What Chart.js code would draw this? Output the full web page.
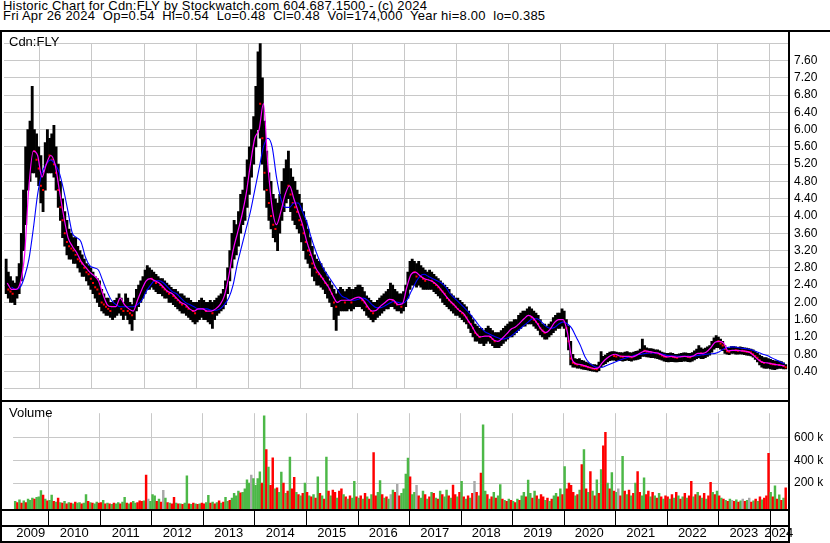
<!DOCTYPE html>
<html>
<head>
<meta charset="utf-8">
<script src="https://cdn.jsdelivr.net/npm/chart.js@4.4.1/dist/chart.umd.min.js"></script>
<style>
  html, body { margin: 0; padding: 0; background: #fff; }
  #wrap { position: relative; width: 830px; height: 543px; overflow: hidden; font-family: "Liberation Sans", Arial, sans-serif; color: #000; }
  .hd { position: absolute; left: 3px; font-size: 13px; line-height: 13px; letter-spacing: 0.22px; white-space: pre; }
  .tag { position: absolute; left: 9px; font-size: 13px; line-height: 13px; white-space: pre; }
  canvas { position: absolute; left: 0; }
</style>
</head>
<body>
<div id="wrap">
  <div class="hd" style="top:-1px">Historic Chart for Cdn:FLY by Stockwatch.com 604.687.1500 - (c) 2024</div>
  <div class="hd" style="top:9px">Fri Apr 26 2024  Op=0.54  Hi=0.54  Lo=0.48  Cl=0.48  Vol=174,000  Year hi=8.00  lo=0.385</div>
  <canvas id="price" width="830" height="372" style="top:30px"></canvas>
  <canvas id="vol" width="830" height="143" style="top:400px"></canvas>
  <div class="tag" style="top:35px">Cdn:FLY</div>
  <div class="tag" style="top:406px">Volume</div>
</div>
<script>
// semi-monthly bars, May 2009 .. Apr 2024
const highs = [
  3.0,2.7,2.6,2.5,2.45,2.6,2.9,3.6,4.6,5.6,6.0,6.2,7.0,6.0,5.9,5.6,
  5.4,5.0,5.7,6.0,5.8,5.9,6.1,5.6,5.2,4.8,4.4,4.1,3.9,3.7,3.6,3.5,3.5,3.3,3.2,3.1,3.0,2.9,2.85,2.8,
  2.7,2.6,2.55,2.5,2.3,2.2,2.1,2.1,2.0,2.0,2.05,2.1,2.2,2.1,2.0,2.2,2.1,2.0,1.95,2.1,2.3,2.4,2.5,2.6,
  2.75,2.85,2.8,2.75,2.7,2.65,2.6,2.55,2.55,2.5,2.45,2.4,2.35,2.3,2.3,2.25,2.2,2.2,2.15,2.1,2.1,2.05,2.0,2.0,
  2.0,2.05,2.1,2.05,2.0,2.0,2.05,2.0,2.05,2.1,2.15,2.2,2.3,2.5,2.8,3.2,3.6,3.9,3.8,4.1,4.5,4.6,4.9,5.3,
  5.6,6.0,6.3,7.0,7.8,8.0,7.2,6.2,5.5,5.0,4.8,4.5,4.4,4.3,4.5,4.8,5.1,5.3,5.5,5.1,4.9,4.8,4.6,4.5,
  4.3,4.1,3.9,3.7,3.5,3.3,3.1,3.0,2.95,2.9,2.8,2.7,2.6,2.5,2.4,2.3,2.2,2.3,2.35,2.3,2.25,2.3,2.35,2.3,
  2.3,2.35,2.4,2.4,2.35,2.25,2.15,2.1,2.05,2.0,2.0,2.05,2.1,2.15,2.2,2.25,2.3,2.45,2.4,2.3,2.25,2.2,2.2,2.25,
  2.4,2.7,2.95,3.0,2.95,2.9,2.95,2.85,2.8,2.75,2.7,2.75,2.7,2.65,2.6,2.55,2.5,2.45,2.4,2.35,2.3,2.2,2.15,2.1,
  2.1,2.05,2.0,1.95,1.9,1.8,1.7,1.6,1.5,1.45,1.4,1.4,1.35,1.4,1.45,1.4,1.35,1.3,1.3,1.3,1.35,1.4,1.45,1.5,
  1.55,1.55,1.6,1.6,1.7,1.75,1.8,1.8,1.85,1.9,1.85,1.8,1.75,1.7,1.6,1.5,1.5,1.45,1.5,1.55,1.65,1.7,1.75,1.75,
  1.85,1.8,1.6,1.45,1.1,0.8,0.7,0.68,0.7,0.66,0.65,0.62,0.6,0.58,0.56,0.56,0.55,0.62,0.86,0.75,0.78,0.82,0.85,0.86,
  0.86,0.85,0.84,0.84,0.83,0.85,0.86,0.84,0.83,0.85,0.87,0.88,0.92,1.15,1.0,0.95,0.93,0.93,0.92,0.9,0.9,0.88,0.85,0.83,
  0.82,0.82,0.83,0.82,0.8,0.8,0.81,0.82,0.83,0.83,0.82,0.82,0.84,0.88,0.92,1.0,0.95,0.92,0.94,0.97,1.0,1.1,1.18,1.23,
  1.2,1.15,1.1,1.0,0.95,0.94,0.98,0.98,0.97,0.96,0.97,0.96,0.95,0.94,0.93,0.92,0.9,0.86,0.82,0.78,0.75,0.72,0.72,0.7,
  0.68,0.66,0.65,0.65,0.64,0.63,0.6,0.56
];
const lows = [
  2.2,2.1,2.0,2.0,1.95,2.1,2.2,2.5,3.2,3.8,4.6,4.8,5.0,5.0,4.9,4.7,
  4.3,4.1,4.6,5.0,5.0,5.0,4.9,4.6,4.2,3.9,3.5,3.3,3.1,3.0,3.0,2.9,2.9,2.8,2.7,2.6,2.6,2.5,2.4,2.3,
  2.2,2.1,2.0,1.9,1.8,1.75,1.7,1.7,1.65,1.6,1.65,1.7,1.75,1.7,1.6,1.7,1.6,1.5,1.35,1.6,1.8,1.9,2.0,2.1,
  2.2,2.3,2.3,2.35,2.3,2.25,2.2,2.2,2.15,2.1,2.1,2.0,2.0,1.95,1.9,1.85,1.8,1.75,1.75,1.7,1.65,1.6,1.55,1.5,
  1.55,1.6,1.65,1.6,1.6,1.55,1.5,1.4,1.6,1.7,1.75,1.8,1.85,1.95,2.2,2.5,2.8,3.0,3.1,3.3,3.6,3.8,3.9,4.2,
  4.5,4.9,5.2,5.6,6.0,5.8,5.2,4.6,4.2,3.9,3.7,3.5,3.4,3.2,3.6,3.9,4.1,4.3,4.4,4.1,3.9,3.8,3.7,3.6,
  3.4,3.2,3.0,2.9,2.8,2.6,2.5,2.4,2.4,2.35,2.3,2.2,2.1,2.0,1.9,1.6,1.35,1.7,1.8,1.8,1.8,1.8,1.85,1.8,
  1.85,1.9,1.9,1.9,1.85,1.8,1.7,1.65,1.6,1.55,1.6,1.65,1.7,1.75,1.8,1.85,1.85,1.9,1.9,1.85,1.8,1.8,1.75,1.8,
  1.9,2.1,2.3,2.4,2.4,2.35,2.4,2.35,2.3,2.3,2.3,2.3,2.3,2.25,2.2,2.15,2.1,2.0,1.95,1.9,1.85,1.8,1.75,1.7,
  1.7,1.65,1.6,1.55,1.5,1.4,1.3,1.2,1.1,1.1,1.05,1.05,1.0,1.05,1.1,1.05,1.0,0.95,0.95,0.95,1.0,1.05,1.1,1.15,
  1.2,1.2,1.25,1.3,1.35,1.4,1.45,1.45,1.5,1.5,1.5,1.45,1.4,1.35,1.25,1.2,1.15,1.15,1.2,1.25,1.3,1.35,1.4,1.4,
  1.45,1.4,1.2,0.9,0.55,0.5,0.5,0.48,0.48,0.46,0.45,0.44,0.43,0.42,0.41,0.40,0.39,0.42,0.5,0.55,0.58,0.62,0.65,0.66,
  0.66,0.65,0.66,0.65,0.64,0.65,0.66,0.65,0.64,0.66,0.67,0.68,0.7,0.75,0.75,0.74,0.73,0.72,0.72,0.71,0.7,0.68,0.66,0.64,
  0.63,0.62,0.63,0.63,0.62,0.62,0.63,0.63,0.64,0.64,0.63,0.62,0.64,0.67,0.7,0.72,0.7,0.7,0.72,0.75,0.78,0.85,0.92,0.95,
  0.95,0.92,0.88,0.82,0.8,0.79,0.82,0.82,0.8,0.8,0.81,0.8,0.79,0.78,0.77,0.76,0.73,0.68,0.62,0.55,0.5,0.48,0.47,0.48,
  0.46,0.45,0.44,0.46,0.47,0.47,0.46,0.46
];
const closes = [
  2.5,2.3,2.25,2.2,2.2,2.35,2.6,3.3,4.2,5.0,5.5,5.6,5.9,5.5,5.3,5.1,
  4.7,4.6,5.3,5.5,5.4,5.3,5.2,5.0,4.6,4.2,3.9,3.6,3.4,3.3,3.25,3.2,3.1,3.0,2.95,2.9,2.8,2.7,2.65,2.55,
  2.45,2.35,2.3,2.2,2.0,1.95,1.9,1.85,1.8,1.8,1.85,1.9,1.95,1.85,1.8,1.85,1.8,1.75,1.7,1.9,2.1,2.2,2.3,2.4,
  2.5,2.6,2.6,2.55,2.5,2.45,2.45,2.4,2.35,2.3,2.25,2.2,2.2,2.15,2.1,2.05,2.0,1.95,1.95,1.9,1.85,1.85,1.8,1.75,
  1.8,1.85,1.9,1.85,1.8,1.8,1.8,1.75,1.85,1.9,1.95,2.0,2.1,2.3,2.6,2.9,3.3,3.5,3.5,3.8,4.1,4.2,4.5,4.8,
  5.2,5.6,5.9,6.5,7.0,6.6,5.8,5.0,4.6,4.3,4.0,3.8,3.7,3.8,4.1,4.4,4.6,4.8,4.7,4.5,4.3,4.2,4.1,3.9,
  3.8,3.6,3.4,3.2,3.1,2.9,2.8,2.7,2.65,2.6,2.55,2.45,2.4,2.3,2.2,2.0,1.9,2.0,2.05,2.05,2.0,2.05,2.1,2.0,
  2.05,2.1,2.15,2.1,2.05,2.0,1.9,1.85,1.8,1.75,1.8,1.85,1.9,1.95,2.0,2.0,2.05,2.1,2.05,2.0,1.95,1.95,1.9,2.0,
  2.2,2.5,2.7,2.75,2.7,2.6,2.65,2.6,2.55,2.5,2.5,2.55,2.5,2.45,2.4,2.35,2.3,2.25,2.2,2.1,2.05,2.0,1.95,1.9,
  1.85,1.8,1.75,1.7,1.65,1.55,1.5,1.4,1.3,1.25,1.2,1.2,1.2,1.25,1.25,1.2,1.15,1.1,1.1,1.1,1.15,1.2,1.25,1.3,
  1.35,1.4,1.4,1.45,1.5,1.55,1.6,1.65,1.7,1.7,1.65,1.6,1.55,1.5,1.4,1.35,1.3,1.3,1.35,1.4,1.5,1.55,1.6,1.6,
  1.65,1.55,1.4,1.1,0.7,0.6,0.58,0.56,0.57,0.54,0.53,0.52,0.5,0.49,0.47,0.46,0.45,0.5,0.6,0.65,0.68,0.72,0.75,0.78,
  0.76,0.75,0.76,0.75,0.74,0.75,0.76,0.74,0.73,0.75,0.77,0.78,0.8,0.9,0.88,0.86,0.85,0.84,0.84,0.83,0.82,0.8,0.77,0.75,
  0.74,0.74,0.75,0.74,0.73,0.72,0.73,0.74,0.75,0.75,0.74,0.73,0.75,0.78,0.82,0.85,0.82,0.8,0.83,0.86,0.9,1.0,1.08,1.12,
  1.1,1.05,1.0,0.92,0.87,0.86,0.9,0.9,0.89,0.88,0.89,0.88,0.87,0.86,0.85,0.84,0.8,0.76,0.72,0.66,0.62,0.6,0.6,0.6,
  0.58,0.57,0.56,0.56,0.55,0.55,0.53,0.5
];
// volume in thousands of shares, same semi-monthly steps
const volumes = [
  40,30,55,25,45,30,60,50,70,60,75,80,135,95,60,45,
  50,95,40,35,70,30,25,40,20,30,25,20,35,25,30,20,25,100,40,30,25,20,35,25,
  30,50,20,25,20,15,25,20,30,20,35,75,25,20,30,40,25,30,45,40,45,270,60,40,
  100,90,40,60,35,137,70,30,25,20,75,25,20,20,15,25,265,20,15,25,20,15,20,25,
  20,30,94,25,35,20,30,45,25,35,75,40,50,70,110,90,130,115,120,150,230,200,270,240,
  180,240,300,200,788,493,340,180,422,150,160,120,297,200,110,130,427,150,250,120,100,90,110,200,
  120,90,80,100,70,255,110,90,60,427,130,90,140,120,70,130,150,100,80,60,90,70,216,80,
  70,90,60,110,80,60,100,467,90,120,223,100,70,80,60,100,140,120,190,90,110,150,280,420,
  255,100,120,180,90,70,130,100,60,80,120,110,70,60,130,100,80,140,90,70,184,100,80,120,
  216,80,60,90,70,110,216,120,90,287,710,130,100,60,80,120,70,90,187,60,50,40,60,50,
  40,30,60,50,90,120,80,226,110,70,130,90,60,100,80,50,70,40,60,90,110,80,150,100,
  344,150,200,180,120,90,100,140,362,493,150,120,302,130,90,230,110,318,527,645,200,150,292,130,
  120,150,90,435,130,100,140,90,110,200,302,120,90,247,100,130,80,120,90,70,110,80,60,90,
  80,60,100,70,120,90,60,80,110,70,90,216,80,100,120,90,70,110,60,90,208,120,100,130,
  90,70,60,50,40,60,50,40,55,35,45,60,40,50,69,35,45,60,40,80,55,70,90,461,
  120,80,176,60,97,50,70,160
];
// g = up day, r = down day, n = unchanged
const volDir = [
  "grgrgrgggrgggrgr",
  "ggrgrgrgrgrgrggrggrgrggr",
  "rgrgrgrggrggrgrggrrrgrng",
  "ggrgrngrgrrgrgrggrgrgrgr",
  "rggrgrgrgrggrggggrggggng",
  "gggrgrgrrgrggrgrgrrgrgrg",
  "rgrgrgrgrgrgrrgrrgrgrggr",
  "grgrgrgrrggrgrgngrnrgggg",
  "rggnrggrgrgrgrgrggrgrrgr",
  "grgrgrnrgrggrgrgrggrgrgr",
  "grgrggrggrgrgrrgrgrggrgr",
  "grrrrgrgrgrgrgrgrgrrgrgr",
  "gnrgrgrgrgrrggrrgrgrgrgr",
  "rgrgrgrgrgrrgrgrgrgrrgrg",
  "rgrgrgnrgrgnrgnrgrgrgrrr",
  "grgrgrgr"
].join("").split("");

// monthly moving averages, May 2009 .. Apr 2024
const maShort = [
  2.45,2.3,2.3,2.45,3.1,4.7,5.5,5.4,
  4.9,5.2,5.4,5.2,4.6,4.0,3.5,3.3,3.15,2.95,2.82,2.7,
  2.62,2.5,2.2,1.95,1.9,1.9,2.1,1.95,1.85,1.8,2.05,2.3,
  2.5,2.55,2.5,2.45,2.35,2.25,2.2,2.1,2.0,1.95,1.85,1.8,
  1.85,1.85,1.8,1.8,1.85,1.95,2.15,2.6,3.2,3.6,4.0,4.5,
  5.2,5.8,6.0,6.6,5.2,4.2,3.8,4.1,4.5,4.7,4.4,4.1,
  3.8,3.4,3.1,2.8,2.65,2.5,2.35,2.15,2.0,2.05,2.05,2.05,
  2.1,2.12,2.05,1.9,1.8,1.82,1.92,2.0,2.07,2.05,1.95,1.97,
  2.35,2.65,2.7,2.62,2.55,2.52,2.48,2.4,2.28,2.15,2.03,1.93,
  1.82,1.75,1.6,1.45,1.28,1.2,1.22,1.22,1.13,1.1,1.17,1.27,
  1.38,1.43,1.52,1.62,1.7,1.65,1.52,1.37,1.3,1.38,1.53,1.6,
  1.6,1.3,0.7,0.58,0.56,0.53,0.5,0.47,0.48,0.6,0.7,0.77,
  0.8,0.76,0.75,0.75,0.74,0.78,0.84,0.88,0.86,0.84,0.82,0.77,
  0.74,0.75,0.73,0.74,0.75,0.74,0.76,0.82,0.82,0.85,0.95,1.08,
  1.1,1.05,0.88,0.89,0.89,0.88,0.87,0.84,0.76,0.67,0.61,0.6,
  0.58,0.56,0.55,0.53
];
const maLong = [
  null,2.35,2.3,2.35,2.6,3.0,3.7,4.5,
  5.0,5.2,5.3,5.2,5.0,4.6,4.1,3.6,3.5,3.4,3.05,2.85,
  2.8,2.75,2.5,2.25,2.05,1.95,1.9,1.9,1.9,1.9,1.95,2.05,
  2.25,2.4,2.5,2.5,2.45,2.35,2.25,2.2,2.1,2.0,1.95,1.9,
  1.85,1.85,1.85,1.82,1.82,1.85,1.95,2.1,2.4,2.9,3.3,3.7,
  4.1,4.6,5.1,5.6,5.8,5.6,4.9,4.4,4.2,4.2,4.3,4.3,
  4.1,3.85,3.5,3.2,2.95,2.75,2.6,2.45,2.3,2.15,2.1,2.05,
  2.05,2.08,2.1,2.05,1.95,1.88,1.88,1.92,1.98,2.02,2.0,1.98,
  2.05,2.25,2.45,2.6,2.65,2.6,2.55,2.5,2.45,2.35,2.2,2.1,
  2.0,1.9,1.8,1.68,1.55,1.42,1.32,1.27,1.22,1.18,1.15,1.17,
  1.22,1.3,1.38,1.47,1.55,1.62,1.62,1.55,1.45,1.4,1.42,1.5,
  1.55,1.5,1.4,1.2,1.0,0.75,0.6,0.53,0.5,0.5,0.54,0.58,
  0.62,0.66,0.7,0.73,0.76,0.79,0.8,0.82,0.83,0.83,0.82,0.8,
  0.77,0.76,0.76,0.75,0.75,0.75,0.76,0.77,0.79,0.8,0.81,0.82,
  0.86,0.92,0.96,0.97,0.96,0.94,0.93,0.91,0.88,0.84,0.8,0.77,
  0.72,0.67,0.62,0.58
];

const yearLabels = ["2009","2010","2011","2012","2013","2014","2015","2016","2017","2018","2019","2020","2021","2022","2023","2024"];

const X_MIN = 2009.313, X_MAX = 2024.357;
const START = 2009 + 4 / 12;
const halfMonth = (i) => START + (i + 0.5) / 24;
const month = (j) => START + (j + 0.5) / 12;

const boundaries = yearLabels.slice(1).map(Number);
const mids = yearLabels.map((y) => {
  const a = Math.max(Number(y), X_MIN), b = Math.min(Number(y) + 1, X_MAX);
  return (a + b) / 2;
});

const GRID = "#c8c8c8";
const FONT = "'Liberation Sans', Arial, sans-serif";

const rangeData = highs.map((h, i) => ({ x: halfMonth(i), y: [lows[i], h] }));
const downCloses = closes.map((c, i) => ({ x: halfMonth(i), y: (i > 0 && c < closes[i - 1]) ? c : null }));
const shortData = maShort.map((v, j) => ({ x: month(j), y: v }));
const longData = maLong.map((v, j) => ({ x: month(j), y: v }));

const volColor = { g: "#4cb847", r: "#ff0000", n: "#a8a8a8" };
const VOL_MIN = -35000;
const volData = volumes.map((v, i) => ({ x: halfMonth(i), y: v * 1000 }));

function yearGridAxis() {
  return {
    type: "linear", min: X_MIN, max: X_MAX, offset: false,
    afterBuildTicks: (s) => { s.ticks = boundaries.map((v) => ({ value: v })); },
    ticks: { display: false },
    grid: { color: GRID, drawTicks: false, offset: false },
    border: { display: false },
    afterFit: (s) => { s.height = 0; }
  };
}

const priceFrame = {
  id: "priceFrame",
  afterDraw(chart) {
    const c = chart.ctx;
    c.save();
    c.fillStyle = "#000";
    c.fillRect(0, 0, 830, 2);
    c.fillRect(0, 0, 2, 372);
    c.fillRect(788, 0, 2, 372);
    c.fillRect(0, 370, 790, 2);
    c.restore();
  }
};

const volFrame = {
  id: "volFrame",
  afterDraw(chart) {
    const c = chart.ctx;
    const xs = chart.scales.x;
    c.save();
    c.fillStyle = "#000";
    c.fillRect(0, 0, 790, 2);
    c.fillRect(0, 109, 790, 2);
    c.fillRect(0, 125, 790, 2);
    c.fillRect(0, 141, 790, 2);
    boundaries.forEach((b) => {
      const px = Math.round(xs.getPixelForValue(b));
      c.fillRect(px, 110, 1, b === 2024 ? 33 : 16);
    });
    c.fillRect(0, 0, 2, 143);
    c.fillRect(788, 0, 2, 143);
    c.restore();
  }
};

new Chart(document.getElementById("price"), {
  type: "bar",
  data: {
    datasets: [
      { type: "line", data: shortData, borderColor: "#ff00ff", borderWidth: 1.2, pointRadius: 0, cubicInterpolationMode: "monotone", order: 1 },
      { type: "line", data: longData, borderColor: "#0000ff", borderWidth: 1.1, pointRadius: 0, cubicInterpolationMode: "monotone", order: 2 },
      { type: "line", data: downCloses, showLine: false, pointStyle: "rect", pointRadius: 1.4, backgroundColor: "#ff0000", borderWidth: 0, order: 3 },
      { type: "bar", data: rangeData, backgroundColor: "#000", barThickness: 2.2, order: 4 }
    ]
  },
  options: {
    responsive: false,
    animation: false,
    events: [],
    layout: { padding: { left: 0, right: 0, top: 0, bottom: 2 } },
    plugins: { legend: { display: false }, tooltip: { enabled: false } },
    scales: {
      x: yearGridAxis(),
      y: {
        position: "right", min: 0, max: 8,
        ticks: {
          stepSize: 0.4,
          padding: 6,
          color: "#000",
          font: { family: FONT, size: 12 },
          callback: (v) => (v < 0.2 || v > 7.8) ? "" : v.toFixed(2)
        },
        grid: { color: GRID, drawTicks: false },
        border: { display: false },
        afterFit: (s) => { s.width = 42; }
      }
    }
  },
  plugins: [priceFrame]
});

new Chart(document.getElementById("vol"), {
  type: "bar",
  data: {
    datasets: [
      { data: volData, base: VOL_MIN, backgroundColor: volDir.map((d) => volColor[d]), barThickness: 1.8 }
    ]
  },
  options: {
    responsive: false,
    animation: false,
    events: [],
    layout: { padding: { left: 0, right: 0, top: 2, bottom: 0 } },
    plugins: { legend: { display: false }, tooltip: { enabled: false } },
    scales: {
      x: yearGridAxis(),
      xl: {
        type: "linear", position: "bottom", min: X_MIN, max: X_MAX, offset: false,
        afterBuildTicks: (s) => { s.ticks = mids.map((v) => ({ value: v })); },
        ticks: {
          autoSkip: false, maxRotation: 0, padding: 16, color: "#000",
          font: { family: FONT, size: 13 },
          callback: (v, k) => yearLabels[k]
        },
        grid: { display: false, drawTicks: false },
        border: { display: false },
        afterFit: (s) => { s.height = 33; }
      },
      y: {
        position: "right", min: VOL_MIN, max: 812000,
        afterBuildTicks: (s) => { s.ticks = [200000, 400000, 600000].map((v) => ({ value: v })); },
        ticks: {
          padding: 6, color: "#000",
          font: { family: FONT, size: 12 },
          callback: (v) => (v / 1000) + " k"
        },
        grid: { color: GRID, drawTicks: false },
        border: { display: false },
        afterFit: (s) => { s.width = 42; }
      }
    }
  },
  plugins: [volFrame]
});
</script>
</body>
</html>
